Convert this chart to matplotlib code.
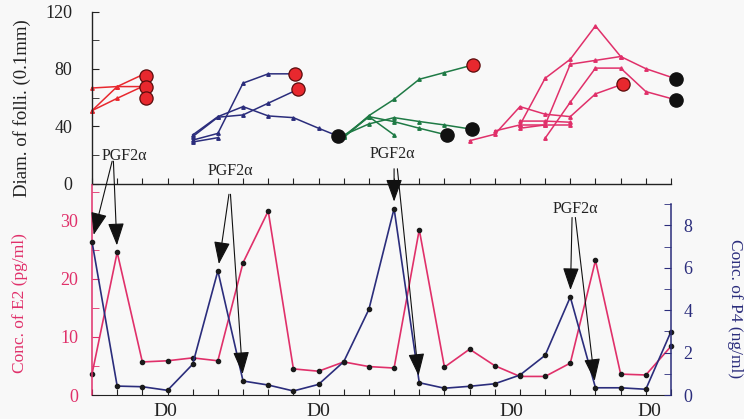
import numpy as np
import matplotlib
matplotlib.use("Agg")
import matplotlib.pyplot as plt
from matplotlib.ticker import MultipleLocator

plt.rcParams['font.family'] = ['Liberation Serif', 'DejaVu Serif']

# ---- data: follicle diameters (0.1 mm), top panel ----
red_x = [0, 1, 2]
red_a = [66.7, 67.7, 67.7]
red_b = [50.9, 67.7, 75.9]
red_c = [50.9, 59.5, 67.7]

blue1_x = [4, 5, 6, 7, 8.08]
blue1_y = [30.3, 35.0, 70.1, 76.6, 76.6]
blue2_x = [4, 5, 6, 7, 8.2]
blue2_y = [32.7, 46.3, 47.9, 56.1, 65.9]
blue3_x = [4, 5, 6, 7, 8, 9, 9.76]
blue3_y = [33.9, 46.7, 53.7, 47.2, 46.0, 38.6, 33.2]
blue4_x = [4, 5]
blue4_y = [29.0, 32.0]

green1_x = [10, 11, 12, 13, 14, 15.15]
green1_y = [32.3, 47.4, 58.8, 72.8, 77.5, 82.9]
green2_x = [10, 11, 12, 13, 14, 15.09]
green2_y = [33.9, 41.6, 46.0, 43.3, 40.9, 37.9]
green3_x = [10, 11, 12, 13, 14.09]
green3_y = [33.2, 46.7, 43.2, 38.6, 33.9]
green4_x = [10, 11, 12]
green4_y = [32.3, 46.7, 33.9]

pink1_x = [15, 16, 17, 18, 19, 20, 21.08]
pink1_y = [29.9, 34.4, 53.7, 48.4, 46.7, 62.6, 69.4]
pink2_x = [16, 17, 18, 19, 20, 21, 22, 23.2]
pink2_y = [36.7, 40.9, 73.5, 86.8, 110.1, 88.7, 80.2, 73.1]
pink3_x = [17, 18, 19, 20, 21]
pink3_y = [38.6, 40.9, 83.3, 86.0, 88.7]
pink4_x = [18, 19, 20, 21, 22, 23.2]
pink4_y = [31.6, 56.8, 80.6, 80.6, 64.2, 58.4]
pink5_x = [17, 18, 19]
pink5_y = [43.6, 43.6, 42.8]
pink6_x = [17, 18, 19]
pink6_y = [40.9, 40.9, 40.9]

# final follicle markers (ovulated = red, regressed = black)
ovul_x = [2.15, 2.15, 2.15, 8.08, 8.2, 15.15, 21.08]
ovul_y = [75.2, 67.7, 59.6, 76.6, 65.9, 82.9, 69.4]
regr_x = [9.76, 14.09, 15.09, 23.2, 23.2]
regr_y = [33.2, 33.9, 37.9, 73.1, 58.4]

# ---- data: hormones, bottom panel ----
days = np.arange(24)
e2 = [3.6, 24.6, 5.7, 5.9, 6.4, 5.9, 22.8, 31.7, 4.5, 4.1, 5.7, 4.9,
      4.65, 28.5, 4.8, 7.9, 5.05, 3.2, 3.2, 5.5, 23.2, 3.6, 3.45, 8.4]
p4 = [7.23, 0.42, 0.39, 0.22, 1.45, 5.85, 0.66, 0.47, 0.19, 0.5, 1.57, 4.04,
      8.79, 0.58, 0.32, 0.41, 0.53, 0.94, 1.87, 4.62, 0.34, 0.34, 0.27, 2.99]

d0_x = [2.9, 9.0, 16.65, 22.15]

# PGF2a injections: label position, arrow tails (E2 units) and targets
pgf_label = [(1.3, 41.2), (5.5, 38.6), (11.95, 41.6), (19.2, 32.0)]
pgf_tails = [[(0.8, 40.3), (0.85, 40.3)], [(5.44, 34.6), (5.5, 34.6)],
             [(12.0, 39.0), (12.13, 39.0)], [(19.07, 30.6), (19.2, 30.6)]]
pgf_targets = [[('p4', 0), ('e2', 1)], [('p4', 5), ('p4', 6)],
               [('p4', 12), ('p4', 13)], [('p4', 19), ('p4', 20)]]

RED = '#e8282e'
NAVY = '#2b2d7c'
GREEN = '#1f7a45'
PINK = '#e0306a'
BG = '#f8f8f8'

W, H = 744, 419


def box(x0, y0, x1, y1):
    return [x0 / W, 1 - y1 / H, (x1 - x0) / W, (y1 - y0) / H]


fig = plt.figure(figsize=(7.44, 4.19), dpi=100, facecolor=BG)

# ---------------- top panel ----------------
ax = fig.add_axes(box(92, 11.7, 671, 183.5))
ax.set_facecolor('none')
ax.set_xlim(0, 23)
ax.set_ylim(0, 120)
for s in ['top', 'right']:
    ax.spines[s].set_visible(False)
for s in ['left', 'bottom']:
    ax.spines[s].set_color('#222222')
    ax.spines[s].set_linewidth(1.0)
ax.xaxis.set_major_locator(MultipleLocator(1))
ax.set_xticklabels([])
ax.yaxis.set_major_locator(MultipleLocator(40))
ax.yaxis.set_minor_locator(MultipleLocator(20))
ax.tick_params(axis='x', direction='in', length=4, color='#222222')
ax.tick_params(axis='y', which='both', direction='in', length=5,
               color='#222222', labelsize=13, pad=14, labelcolor='#222222')

lk = dict(lw=1.1, marker='^', ms=2.5, clip_on=False)
for xs, ys in [(red_x, red_a), (red_x, red_b), (red_x, red_c)]:
    ax.plot(xs, ys, color=RED, **lk)
for xs, ys in [(blue1_x, blue1_y), (blue2_x, blue2_y), (blue3_x, blue3_y),
               (blue4_x, blue4_y)]:
    ax.plot(xs, ys, color=NAVY, **lk)
for xs, ys in [(green1_x, green1_y), (green2_x, green2_y),
               (green3_x, green3_y), (green4_x, green4_y)]:
    ax.plot(xs, ys, color=GREEN, **lk)
for xs, ys in [(pink1_x, pink1_y), (pink2_x, pink2_y), (pink3_x, pink3_y),
               (pink4_x, pink4_y), (pink5_x, pink5_y), (pink6_x, pink6_y)]:
    ax.plot(xs, ys, color=PINK, **lk)

ax.plot(ovul_x, ovul_y, 'o', ms=9.5, mfc=RED, mec='#5a0c0c', mew=0.9,
        clip_on=False, zorder=5)
ax.plot(regr_x, regr_y, 'o', ms=9.5, mfc='#111111', mec='#111111',
        clip_on=False, zorder=5)

fig.text(22 / W, 1 - 108 / H, 'Diam. of folli. (0.1mm)', rotation=90,
         ha='center', va='center', fontsize=13.5, color='#222222')

# ---------------- bottom panel ----------------
ax1 = fig.add_axes(box(92, 185, 671, 395))
ax1.set_facecolor('none')
ax2 = ax1.twinx()
ax1.set_xlim(0, 23)
ax1.set_ylim(0, 36.2)
ax2.set_ylim(0, 9.9)

ax1.spines['top'].set_visible(False)
ax1.spines['right'].set_visible(False)
ax1.spines['left'].set_color(PINK)
ax1.spines['left'].set_linewidth(1.1)
ax1.spines['bottom'].set_color('#222222')
for s in ['top', 'left', 'bottom']:
    ax2.spines[s].set_visible(False)
ax2.spines['right'].set_color(NAVY)
ax2.spines['right'].set_linewidth(1.1)
ax2.spines['right'].set_bounds(0, 9)

ax1.xaxis.set_major_locator(MultipleLocator(1))
ax1.set_xticklabels([])
ax1.tick_params(axis='x', direction='in', length=4, color='#222222')
ax1.yaxis.set_major_locator(MultipleLocator(10))
ax1.yaxis.set_minor_locator(MultipleLocator(5))
ax1.tick_params(axis='y', which='both', direction='in', length=5,
                color=PINK, labelcolor=PINK, labelsize=13, pad=10)
ax2.set_yticks([0, 2, 4, 6, 8])
ax2.set_yticks([1, 3, 5, 7, 9], minor=True)
ax2.tick_params(axis='y', which='both', direction='in', length=5,
                color=NAVY, labelcolor=NAVY, labelsize=13, pad=9)

ax1.plot(days, e2, color=PINK, lw=1.2, marker='o', ms=3, mfc='#1a1a1a',
         mec='#1a1a1a', clip_on=False)
ax2.plot(days, p4, color=NAVY, lw=1.2, marker='o', ms=3, mfc='#1a1a1a',
         mec='#1a1a1a', clip_on=False)

for x in d0_x:
    ax1.text(x, -1.3, 'D0', ha='center', va='top', fontsize=14,
             color='#222222', clip_on=False)

series = {'e2': (ax1, e2), 'p4': (ax2, p4)}
for (lx, ly), tails, targets in zip(pgf_label, pgf_tails, pgf_targets):
    ax2.text(lx, ly, 'PGF2\u03b1', transform=ax1.transData, ha='center',
             va='center', fontsize=11.5, color='#222222', clip_on=False)
    for (tx, ty), (key, i) in zip(tails, targets):
        tax, vals = series[key]
        ax2.annotate('', xy=(days[i], vals[i]), xycoords=tax.transData,
                     xytext=(tx, ty), textcoords=ax1.transData,
                     annotation_clip=False,
                     arrowprops=dict(arrowstyle='-|>,head_length=1.0,head_width=0.36',
                                     mutation_scale=14, color='#111111',
                                     lw=0.8, shrinkA=0, shrinkB=5))

fig.text(20 / W, 1 - 303 / H, 'Conc. of E2 (pg/ml)', rotation=90,
         ha='center', va='center', fontsize=12.5, color=PINK)
fig.text(735 / W, 1 - 309 / H, 'Conc. of P4 (ng/ml)', rotation=270,
         ha='center', va='center', fontsize=12.5, color=NAVY)

fig.savefig('out.png', dpi=100, facecolor=BG)
